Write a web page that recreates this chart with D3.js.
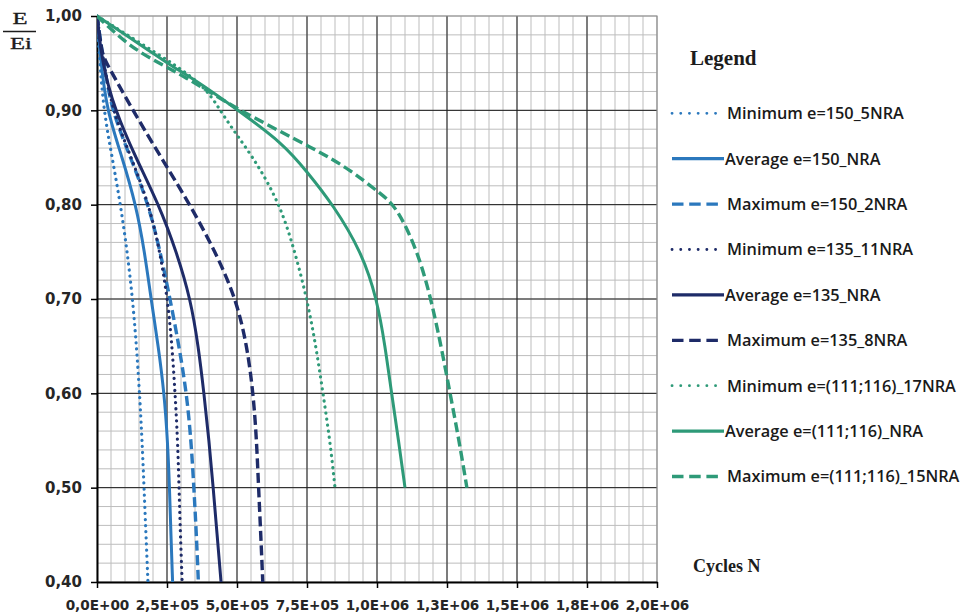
<!DOCTYPE html>
<html>
<head>
<meta charset="utf-8">
<script src="https://cdn.jsdelivr.net/npm/d3@7"></script>
<style>
  body { margin: 0; background: #fff; }
  .grid-minor line { stroke: #bdbdbd; stroke-width: 1; }
  .grid-major line { stroke: #1a1a1a; stroke-width: 1; }
  .axis path, .axis line { stroke: #000; }
  .axis path { stroke-width: 2; }
  .axis line { stroke-width: 1.5; }
  .axis text { font-family: "DejaVu Sans", Verdana, sans-serif; font-weight: bold; fill: #262626; }
  .y.axis text { font-size: 15px; }
  .x.axis text { font-size: 13.6px; }
  .legend text { font-family: "Open Sans", sans-serif; font-weight: 600; font-size: 16.3px; fill: #1a1a1a; }
  .title { font-family: "Liberation Serif", "Times New Roman", serif; fill: #1c1c1c; }
</style>
</head>
<body>
<svg id="chart" width="965" height="614"></svg>
<script>
// axis ticks and their labels (Excel style, comma decimals)
const xTicks = [0, 250000, 500000, 750000, 1000000, 1250000, 1500000, 1750000, 2000000];
const xTickLabels = ['0,0E+00', '2,5E+05', '5,0E+05', '7,5E+05', '1,0E+06', '1,3E+06', '1,5E+06', '1,8E+06', '2,0E+06'];
const yTicks = [0.4, 0.5, 0.6, 0.7, 0.8, 0.9, 1.0];
const yTickLabels = ['0,40', '0,50', '0,60', '0,70', '0,80', '0,90', '1,00'];

const seriesNames = [
  'Minimum e=150_5NRA',
  'Average e=150_NRA',
  'Maximum e=150_2NRA',
  'Minimum e=135_11NRA',
  'Average e=135_NRA',
  'Maximum e=135_8NRA',
  'Minimum e=(111;116)_17NRA',
  'Average e=(111;116)_NRA',
  'Maximum e=(111;116)_15NRA'
];

// [cycles N, E/Ei]
const min150 = [[0, 1], [10000, 0.95], [24000, 0.90], [54000, 0.85], [84000, 0.80], [108000, 0.75], [127000, 0.70],
  [141000, 0.65], [152000, 0.60], [161000, 0.55], [168000, 0.50], [175000, 0.45], [182000, 0.40]];
const avg150 = [[0, 1], [14000, 0.95], [35000, 0.90], [90000, 0.85], [139000, 0.80], [170000, 0.75], [193000, 0.70],
  [219000, 0.65], [240000, 0.60], [252000, 0.55], [259000, 0.50], [264000, 0.45], [270000, 0.40]];
const max150 = [[0, 1], [24000, 0.95], [52000, 0.90], [120000, 0.85], [184000, 0.80], [226000, 0.75], [261000, 0.70],
  [293000, 0.65], [320000, 0.60], [336000, 0.55], [346000, 0.50], [355000, 0.45], [362000, 0.40]];
const min135 = [[0, 1], [24000, 0.95], [55000, 0.90], [122000, 0.85], [186000, 0.80], [225000, 0.75], [252000, 0.70],
  [268000, 0.65], [279000, 0.60], [288000, 0.55], [293000, 0.50], [298000, 0.45], [304000, 0.40]];
const avg135 = [[0, 1], [18000, 0.95], [64000, 0.90], [138000, 0.85], [221000, 0.80], [284000, 0.75], [334000, 0.70],
  [362000, 0.65], [382000, 0.60], [400000, 0.55], [415000, 0.50], [429000, 0.45], [443000, 0.40]];
const max135 = [[0, 1], [17000, 0.96], [34000, 0.95], [128000, 0.90], [229000, 0.85], [332000, 0.80], [423000, 0.75],
  [497000, 0.70], [536000, 0.65], [558000, 0.60], [570000, 0.55], [577000, 0.50], [585000, 0.45], [592000, 0.40]];
const min111 = [[0, 1], [189000, 0.965], [379000, 0.929], [439000, 0.90], [504000, 0.872], [571000, 0.844],
  [654000, 0.80], [707000, 0.75], [750000, 0.70], [782000, 0.65], [807000, 0.60], [832000, 0.55], [850000, 0.50]];
const avg111 = [[0, 1], [189000, 0.963], [250000, 0.95], [368000, 0.929], [504000, 0.90], [664000, 0.865],
  [750000, 0.835], [843000, 0.80], [945000, 0.75], [1000000, 0.70], [1029000, 0.65], [1052000, 0.60],
  [1077000, 0.55], [1100000, 0.50]];
const max111 = [[0, 1], [100000, 0.972], [189000, 0.955], [308000, 0.937], [505000, 0.90], [785000, 0.858],
  [904000, 0.837], [1011000, 0.812], [1070000, 0.798], [1146000, 0.75], [1193000, 0.70], [1229000, 0.65],
  [1261000, 0.60], [1293000, 0.55], [1321000, 0.50]];

const seriesData = [min150, avg150, max150, min135, avg135, max135, min111, avg111, max111];

const lightBlue = '#2b78bd';
const navy = '#1e2b68';
const green = '#2e9a78';
const styles = [
  { color: lightBlue, kind: 'dot' },
  { color: lightBlue, kind: 'solid' },
  { color: lightBlue, kind: 'dash' },
  { color: navy, kind: 'dot' },
  { color: navy, kind: 'solid' },
  { color: navy, kind: 'dash' },
  { color: green, kind: 'dot' },
  { color: green, kind: 'solid' },
  { color: green, kind: 'dash' }
];

const margin = { top: 16, left: 97 };
const width = 560;
const height = 566;

const svg = d3.select('#chart');

const x = d3.scaleLinear().domain([0, 2000000]).range([0, width]);
const y = d3.scaleLinear().domain([0.4, 1.0]).range([height, 0]);

const plot = svg.append('g').attr('transform', `translate(${margin.left}, ${margin.top})`);

// minor grid
const minor = plot.append('g').attr('class', 'grid-minor');
minor.selectAll('.vx')
  .data(x.ticks(40))
  .enter()
  .append('line')
  .attr('x1', d => x(d)).attr('x2', d => x(d))
  .attr('y1', 0).attr('y2', height);
minor.selectAll('.hy')
  .data(y.ticks(30))
  .enter()
  .append('line')
  .attr('y1', d => y(d)).attr('y2', d => y(d))
  .attr('x1', 0).attr('x2', width);

// major grid (top and right edges are the lighter plot border)
const major = plot.append('g').attr('class', 'grid-major');
major.selectAll('.vx')
  .data(xTicks.slice(1, -1))
  .enter()
  .append('line')
  .attr('x1', d => x(d)).attr('x2', d => x(d))
  .attr('y1', 0).attr('y2', height);
major.selectAll('.hy')
  .data(yTicks.slice(1, -1))
  .enter()
  .append('line')
  .attr('y1', d => y(d)).attr('y2', d => y(d))
  .attr('x1', 0).attr('x2', width);

plot.append('path')
  .attr('d', `M0,${y(1)}H${x(2000000)}V${height}`)
  .attr('fill', 'none')
  .attr('stroke', '#8c8c8c')
  .attr('stroke-width', 1.2);

// axes
plot.append('g')
  .attr('class', 'x axis')
  .attr('transform', `translate(0, ${height})`)
  .call(d3.axisBottom(x)
    .tickValues(xTicks)
    .tickSize(6)
    .tickSizeOuter(0)
    .tickPadding(12)
    .tickFormat((d, i) => xTickLabels[i]));

plot.append('g')
  .attr('class', 'y axis')
  .call(d3.axisLeft(y)
    .tickValues(yTicks)
    .tickSize(6)
    .tickSizeOuter(0)
    .tickPadding(9)
    .tickFormat((d, i) => yTickLabels[i]));

// curves
svg.append('defs').append('clipPath').attr('id', 'clip')
  .append('rect').attr('x', 0).attr('y', -4).attr('width', width).attr('height', height + 4);

const line = d3.line()
  .x(d => x(d[0]))
  .y(d => y(d[1]))
  .curve(d3.curveBasis);

function dashFor(kind) {
  if (kind === 'dot') return '0.1 6';
  if (kind === 'dash') return '10 4.5';
  return null;
}

plot.append('g')
  .attr('clip-path', 'url(#clip)')
  .selectAll('path')
  .data(seriesData)
  .enter()
  .append('path')
  .attr('d', line)
  .attr('fill', 'none')
  .attr('stroke', (d, i) => styles[i].color)
  .attr('stroke-width', (d, i) => styles[i].kind === 'dot' ? 3.2 : (styles[i].kind === 'dash' ? 3.4 : 3))
  .attr('stroke-linecap', (d, i) => styles[i].kind === 'dot' ? 'round' : 'butt')
  .attr('stroke-dasharray', (d, i) => dashFor(styles[i].kind));

// legend
svg.append('text')
  .attr('class', 'title')
  .attr('x', 690)
  .attr('y', 65)
  .attr('font-size', 21)
  .attr('font-weight', 'bold')
  .text('Legend');

const legend = svg.append('g').attr('class', 'legend');
const rows = legend.selectAll('g')
  .data(seriesNames)
  .enter()
  .append('g')
  .attr('transform', (d, i) => `translate(672, ${113.3 + i * 45.4})`);

rows.append('line')
  .attr('x1', 0)
  .attr('x2', (d, i) => styles[i].kind === 'solid' ? 52 : 46)
  .attr('stroke', (d, i) => styles[i].color)
  .attr('stroke-width', (d, i) => styles[i].kind === 'dot' ? 2.8 : 3.3)
  .attr('stroke-linecap', (d, i) => styles[i].kind === 'dot' ? 'round' : 'butt')
  .attr('stroke-dasharray', (d, i) => styles[i].kind === 'dot' ? '0.1 8.6' : (styles[i].kind === 'dash' ? '11.5 5.7' : null));

rows.append('text')
  .attr('x', (d, i) => styles[i].kind === 'solid' ? 53 : 55)
  .attr('dy', '0.36em')
  .text(d => d);

// axis titles
svg.append('text')
  .attr('class', 'title')
  .attr('x', 693)
  .attr('y', 572)
  .attr('font-size', 18)
  .attr('font-weight', 'bold')
  .text('Cycles N');

const frac = svg.append('g').attr('class', 'title');
frac.append('text')
  .attr('transform', 'translate(20, 24) scale(1.45, 1)')
  .attr('text-anchor', 'middle')
  .attr('font-size', 17)
  .attr('stroke', '#1c1c1c')
  .attr('stroke-width', 0.35)
  .text('E');
frac.append('line')
  .attr('x1', 3).attr('x2', 36)
  .attr('y1', 31.5).attr('y2', 31.5)
  .attr('stroke', '#1c1c1c')
  .attr('stroke-width', 1.3);
frac.append('text')
  .attr('transform', 'translate(21, 48.5) scale(1.45, 1)')
  .attr('text-anchor', 'middle')
  .attr('font-size', 17)
  .attr('stroke', '#1c1c1c')
  .attr('stroke-width', 0.35)
  .text('Ei');
</script>
</body>
</html>
